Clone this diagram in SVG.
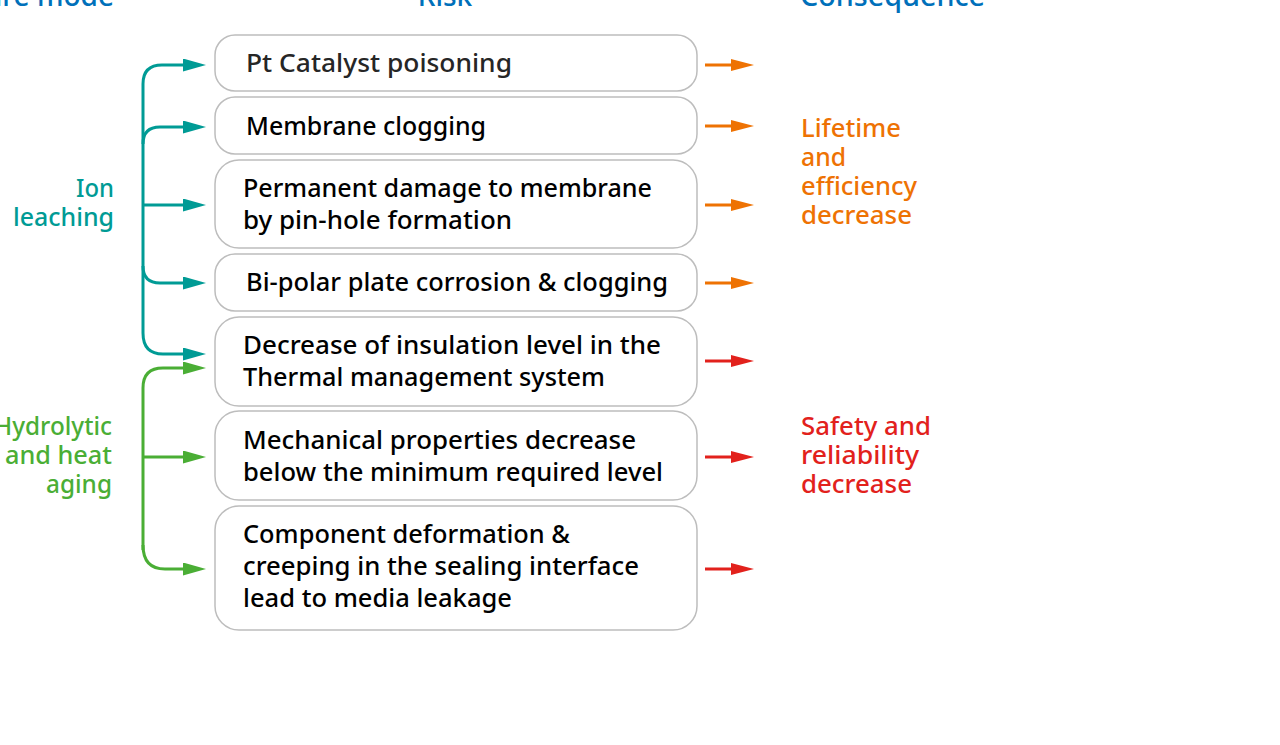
<svg xmlns="http://www.w3.org/2000/svg" width="1280" height="745" viewBox="0 0 1280 745">
<style>
text{font-family:"Noto Sans","Open Sans","Liberation Sans",sans-serif;}
.box{fill:#fff;stroke:#bdbdbd;stroke-width:1.5;}
.bt{font-size:25px;fill:#000;font-weight:500;}
.hd{font-size:28px;fill:#0070BA;font-weight:500;}
.teal{fill:none;stroke:#009B95;stroke-width:3;}
.green{fill:none;stroke:#4AAE35;stroke-width:3;}
.orange{fill:none;stroke:#EE7203;stroke-width:3;}
.red{fill:none;stroke:#E2211C;stroke-width:3;}
.lt{font-size:25.5px;font-weight:500;}
</style>
<defs>
<marker id="aT" markerUnits="userSpaceOnUse" markerWidth="24" markerHeight="14" refX="7" refY="6.5" orient="auto"><path d="M0,0 L23,6.5 L0,13 z" fill="#009B95"/></marker>
<marker id="aG" markerUnits="userSpaceOnUse" markerWidth="24" markerHeight="14" refX="7" refY="6.5" orient="auto"><path d="M0,0 L23,6.5 L0,13 z" fill="#4AAE35"/></marker>
<marker id="aO" markerUnits="userSpaceOnUse" markerWidth="24" markerHeight="14" refX="9" refY="6" orient="auto"><path d="M0,0 L23,6 L0,12 z" fill="#EE7203"/></marker>
<marker id="aR" markerUnits="userSpaceOnUse" markerWidth="24" markerHeight="14" refX="9" refY="6" orient="auto"><path d="M0,0 L23,6 L0,12 z" fill="#E2211C"/></marker>
</defs>

<g id="headers">
<text class="hd" x="114" y="6" text-anchor="end">Failure mode</text>
<text class="hd" x="445" y="6" text-anchor="middle">Risk</text>
<text class="hd" x="800" y="6" textLength="185" lengthAdjust="spacingAndGlyphs">Consequence</text>
</g>

<g id="ion-leaching">
<text class="lt" fill="#009B95" x="114" y="197" text-anchor="end" textLength="38" lengthAdjust="spacingAndGlyphs">Ion</text>
<text class="lt" fill="#009B95" x="114" y="226" text-anchor="end" textLength="101" lengthAdjust="spacingAndGlyphs">leaching</text>
</g>
<g id="hydrolytic">
<text class="lt" fill="#4AAE35" x="112" y="435" text-anchor="end" textLength="118" lengthAdjust="spacingAndGlyphs">Hydrolytic</text>
<text class="lt" fill="#4AAE35" x="112" y="464" text-anchor="end" textLength="107" lengthAdjust="spacingAndGlyphs">and heat</text>
<text class="lt" fill="#4AAE35" x="112" y="493" text-anchor="end" textLength="66" lengthAdjust="spacingAndGlyphs">aging</text>
</g>

<g id="box1"><rect class="box" x="215" y="35" width="482" height="56" rx="20"/>
<text class="bt" style="fill:#262626" x="246" y="72" textLength="266" lengthAdjust="spacingAndGlyphs">Pt Catalyst poisoning</text></g>
<g id="box2"><rect class="box" x="215" y="97" width="482" height="57" rx="20"/>
<text class="bt" x="246" y="135" textLength="240" lengthAdjust="spacingAndGlyphs">Membrane clogging</text></g>
<g id="box3"><rect class="box" x="215" y="160" width="482" height="88" rx="24"/>
<text class="bt" x="243" y="197" textLength="409" lengthAdjust="spacingAndGlyphs">Permanent damage to membrane</text>
<text class="bt" x="243" y="229" textLength="269" lengthAdjust="spacingAndGlyphs">by pin-hole formation</text></g>
<g id="box4"><rect class="box" x="215" y="254" width="482" height="57" rx="20"/>
<text class="bt" x="246" y="291" textLength="422" lengthAdjust="spacingAndGlyphs">Bi-polar plate corrosion &amp; clogging</text></g>
<g id="box5"><rect class="box" x="215" y="317" width="482" height="89" rx="24"/>
<text class="bt" x="243" y="354" textLength="418" lengthAdjust="spacingAndGlyphs">Decrease of insulation level in the</text>
<text class="bt" x="243" y="386" textLength="362" lengthAdjust="spacingAndGlyphs">Thermal management system</text></g>
<g id="box6"><rect class="box" x="215" y="411" width="482" height="89" rx="24"/>
<text class="bt" x="243" y="449" textLength="393" lengthAdjust="spacingAndGlyphs">Mechanical properties decrease</text>
<text class="bt" x="243" y="481" textLength="420" lengthAdjust="spacingAndGlyphs">below the minimum required level</text></g>
<g id="box7"><rect class="box" x="215" y="506" width="482" height="124" rx="24"/>
<text class="bt" x="243" y="543" textLength="327" lengthAdjust="spacingAndGlyphs">Component deformation &amp;</text>
<text class="bt" x="243" y="575" textLength="396" lengthAdjust="spacingAndGlyphs">creeping in the sealing interface</text>
<text class="bt" x="243" y="607" textLength="269" lengthAdjust="spacingAndGlyphs">lead to media leakage</text></g>

<g id="consequence-lifetime">
<text class="lt" fill="#EE7203" x="801" y="137" textLength="100" lengthAdjust="spacingAndGlyphs">Lifetime</text>
<text class="lt" fill="#EE7203" x="801" y="166" textLength="45" lengthAdjust="spacingAndGlyphs">and</text>
<text class="lt" fill="#EE7203" x="801" y="195" textLength="116" lengthAdjust="spacingAndGlyphs">efficiency</text>
<text class="lt" fill="#EE7203" x="801" y="224" textLength="111" lengthAdjust="spacingAndGlyphs">decrease</text>
</g>
<g id="consequence-safety">
<text class="lt" fill="#E2211C" x="801" y="435" textLength="130" lengthAdjust="spacingAndGlyphs">Safety and</text>
<text class="lt" fill="#E2211C" x="801" y="464" textLength="118" lengthAdjust="spacingAndGlyphs">reliability</text>
<text class="lt" fill="#E2211C" x="801" y="493" textLength="111" lengthAdjust="spacingAndGlyphs">decrease</text>
</g>

<g id="connectors">
<path class="teal" d="M143,333 V84 Q143,65 162,65 H190" marker-end="url(#aT)"/>
<path class="teal" d="M143,144 Q143,127 160,127 H190" marker-end="url(#aT)"/>
<path class="teal" d="M143,205 H190" marker-end="url(#aT)"/>
<path class="teal" d="M143,266 Q143,283 160,283 H190" marker-end="url(#aT)"/>
<path class="teal" d="M143,333 Q143,354 163,354 H190" marker-end="url(#aT)"/>
<path class="green" d="M143,550 V388 Q143,368 163,368 H190" marker-end="url(#aG)"/>
<path class="green" d="M143,457 H190" marker-end="url(#aG)"/>
<path class="green" d="M143,545 Q143,569 165,569 H190" marker-end="url(#aG)"/>
<path class="orange" d="M705,65 H740" marker-end="url(#aO)"/>
<path class="orange" d="M705,126 H740" marker-end="url(#aO)"/>
<path class="orange" d="M705,205 H740" marker-end="url(#aO)"/>
<path class="orange" d="M705,283 H740" marker-end="url(#aO)"/>
<path class="red" d="M705,361 H740" marker-end="url(#aR)"/>
<path class="red" d="M705,457 H740" marker-end="url(#aR)"/>
<path class="red" d="M705,569 H740" marker-end="url(#aR)"/>
</g>
</svg>
